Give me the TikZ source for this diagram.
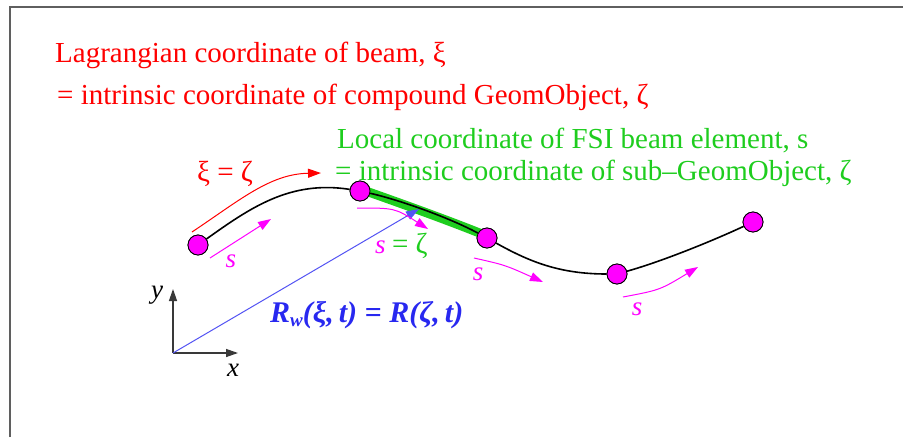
\documentclass[tikz,border=0pt]{standalone}
\usepackage{fontspec}
\setmainfont{Liberation Serif}
\usetikzlibrary{arrows.meta,positioning}
\definecolor{redtxt}{RGB}{255,0,0}
\definecolor{greentxt}{RGB}{30,205,30}
\definecolor{magtxt}{RGB}{255,0,255}
\definecolor{bluetxt}{RGB}{40,40,240}
\definecolor{frame}{RGB}{95,95,95}

\begin{document}
\begin{tikzpicture}[
    x=1pt, y=-1pt,
    joint/.style={circle, draw=black, fill=magtxt, line width=0.8pt,
                  minimum size=20pt, inner sep=0pt},
    label/.style={anchor=base west, inner sep=0pt, font=\fontsize{29}{34}\selectfont},
    slabel/.style={inner sep=0pt, text=magtxt, font=\fontsize{27}{30}\selectfont\itshape},
    beam/.style={black, line width=1.6pt},
    sarrow/.style={magtxt, line width=1pt, -{Triangle[length=13pt,width=9pt]}},
    axis/.style={frame!60!black, line width=1.3pt, -{Triangle[length=12pt,width=8pt]}},
]
\useasboundingbox (0,0) rectangle (903,437);
% Frame
\draw[frame, line width=2pt] (9.5,437) -- (9.5,6.5) -- (903,6.5);

% Titles
\node[label, text=redtxt] (lag) at (55,62) {Lagrangian coordinate of beam, ξ};
\node[label, text=redtxt] (lagb) at (57,104) {= intrinsic coordinate of compound GeomObject, ζ};
\node[label, text=greentxt] (loc) at (337,148) {Local coordinate of FSI beam element, s};
\node[label, text=greentxt] (locb) at (335,180) {= intrinsic coordinate of sub--GeomObject, ζ};

% Joints of the beam
\node[joint] (j1) at (198,245) {};
\node[joint] (j2) at (360,191) {};
\node[joint] (j3) at (487,238) {};
\node[joint] (j4) at (617,274) {};
\node[joint] (j5) at (753,222) {};

% Beam
\draw[greentxt, line width=9pt] ([yshift=2pt]j2.center) .. controls (400,203) and (450,221) .. ([yshift=2pt]j3.center);
\draw[beam] (j1) .. controls (250,208) and (290,180) .. (j2);
\draw[beam] (j2) .. controls (400,200) and (450,218) .. (j3);
\draw[beam] (j3) .. controls (530,262) and (560,274) .. (j4);
\draw[beam] (j4) .. controls (660,262) and (710,242) .. (j5);
\foreach \j in {j1,j2,j3,j4,j5}
    \node[joint] at (\j) {};

% Global coordinate
\coordinate (origin) at (173,353);
\coordinate (ytip) at (173,289);
\coordinate (xtip) at (238,353);
\coordinate (rtip) at (419,209);
\draw[axis] (origin) -- (ytip);
\draw[axis] (origin) -- (xtip);
\node[slabel, text=black] (ylab) at (157,295) {y};
\node[slabel, text=black] (xlab) at (233,370) {x};
\draw[bluetxt!80!white, line width=1pt, -{Triangle[length=13pt,width=9pt]}] (origin) -- (rtip);
\node[label, text=bluetxt, font=\fontsize{30}{34}\selectfont\itshape\bfseries] (pos) at (270,322)
    {R\raisebox{-0.35ex}{\fontsize{19}{19}\selectfont w}(ξ,\,t) = R(ζ,\,t)};

% Arc-length arrows
\coordinate (xis) at (192,232);
\coordinate (xie) at (321,173);
\draw[redtxt, line width=1pt, -{Triangle[length=13pt,width=9pt]}] (xis) .. controls (240,200) and (270,174) .. (xie);
\node[label, text=redtxt] (xieq) at (197,181) {ξ = ζ};

\coordinate (s1a) at (210,258);
\coordinate (s1b) at (271,219);
\coordinate (s2a) at (357,208);
\coordinate (s2b) at (428,229);
\coordinate (s3a) at (474,258);
\coordinate (s3b) at (543,282);
\coordinate (s4a) at (623,297);
\coordinate (s4b) at (698,267);
\draw[sarrow] (s1a) -- (s1b);
\draw[sarrow] (s2a) .. controls (395,208) .. (s2b);
\draw[sarrow] (s3a) .. controls (505,265) .. (s3b);
\draw[sarrow] (s4a) .. controls (660,290) .. (s4b);
\node[slabel] (s1) at (231,261) {s};
\node[slabel] (s3) at (478,274) {s};
\node[slabel] (s4) at (637,309) {s};
\node[label, text=magtxt, font=\fontsize{27}{30}\selectfont\itshape] (s2) at (375,253) {s};
\node[label, text=greentxt, right=6pt of s2.base east, anchor=base west] (s2eq) {= ζ};

\end{tikzpicture}
\end{document}
